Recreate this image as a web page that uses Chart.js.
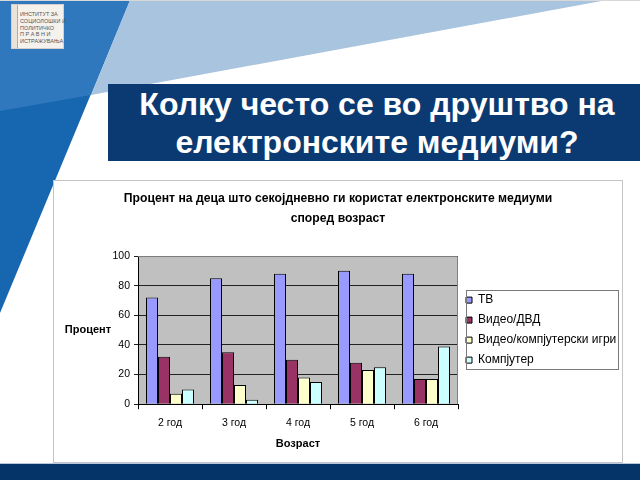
<!DOCTYPE html>
<html>
<head>
<meta charset="utf-8">
<script src="https://cdn.jsdelivr.net/npm/chart.js@4.4.0/dist/chart.umd.min.js"></script>
<style>
html, body { margin: 0; padding: 0; }
body { width: 640px; height: 480px; position: relative; overflow: hidden; background: #fff; font-family: "Liberation Sans", Arial, sans-serif; }
#bg { position: absolute; left: 0; top: 0; }
#logo { position: absolute; left: 11px; top: 4px; width: 53px; height: 45px; box-sizing: border-box; background: #f5f1ec; border: 1px solid #d8d0c8; }
#logo .strip { position: absolute; left: 0; top: 0; width: 5px; height: 43px; background: #ebe3da; border-right: 1px solid #b8ab9c; }
#logo .txt { position: absolute; left: 8px; top: 6px; font-size: 5.5px; line-height: 6.8px; color: #555; white-space: nowrap; }
#banner { position: absolute; left: 108px; top: 84px; width: 532px; height: 77px; box-sizing: border-box; padding: 1px 0 0 6px; background: #0b3a72; color: #fff; font-weight: bold; font-size: 32px; line-height: 38px; text-align: center; white-space: nowrap; }
#box { position: absolute; left: 53px; top: 180px; width: 570px; height: 283px; box-sizing: border-box; border: 1px solid #c4c4c4; background: #fff; }
#box canvas { position: absolute; left: 0; top: 0; }
#foot { position: absolute; left: 0; top: 463px; width: 640px; height: 17px; box-sizing: border-box; background: #053468; border-top: 1px solid #b8c8dc; }
</style>
</head>
<body>
<svg id="bg" width="640" height="480">
  <polygon points="0,0 130,0 0,313" fill="#1666b0"/>
  <polygon points="0,0 130,0 91,95 0,111" fill="#2f78bd"/>
  <polygon points="130,0 607,0 91,95" fill="#a9c4de"/>
  <line x1="0" y1="0.5" x2="640" y2="0.5" stroke="#d8d8d8"/>
</svg>
<div id="logo">
  <div class="strip"></div>
  <div class="txt">ИНСТИТУТ ЗА<br>СОЦИОЛОШКИ И<br>ПОЛИТИЧКО<br>П Р А В Н И<br>ИСТРАЖУВАЊА</div>
</div>
<div id="banner">Колку често се во друштво на<br>електронските медиуми?</div>
<div id="box"><canvas id="chart" width="568" height="281"></canvas></div>
<div id="foot"></div>
<script>
// values
var categories = ['2 год', '3 год', '4 год', '5 год', '6 год'];
var seriesNames = ['ТВ', 'Видео/ДВД', 'Видео/компјутерски игри', 'Компјутер'];
var tv = [72, 85, 88, 90, 88];
var video = [32, 35, 30, 28, 17];
var games = [7, 13, 18, 23, 17];
var computer = [10, 3, 15, 25, 39];
var yTicks = [0, 20, 40, 60, 80, 100];

var colors = ['#9999ff', '#993366', '#ffffcc', '#ccffff'];
var font = '"Liberation Sans", Arial, sans-serif';

// gray plot area, legend frame and the horizontal y title
var slideBits = {
  id: 'slideBits',
  afterInit: function(chart) {
    var lg = chart.legend;
    var fit = lg.fit;
    lg.fit = function() { fit.call(this); this.width = 164; };
  },
  beforeDraw: function(chart) {
    var c = chart.ctx, a = chart.chartArea;
    c.save();
    c.fillStyle = '#c0c0c0';
    c.fillRect(a.left, a.top, a.right - a.left, a.bottom - a.top);
    c.restore();
  },
  afterDraw: function(chart) {
    var c = chart.ctx, a = chart.chartArea;
    c.save();
    c.strokeStyle = '#808080';
    c.lineWidth = 1;
    c.beginPath();
    c.moveTo(a.left, a.top + 0.5);
    c.lineTo(a.right - 0.5, a.top + 0.5);
    c.lineTo(a.right - 0.5, a.bottom);
    c.stroke();
    // legend frame
    var lg = chart.legend, hb = lg.legendHitBoxes;
    if (hb && hb.length) {
      var first = hb[0], last = hb[hb.length - 1];
      var top = first.top + first.height / 2 - 10;
      var bot = last.top + last.height / 2 + 9;
      c.strokeStyle = '#7a7a7a';
      c.strokeRect(Math.round(lg.left + 8) + 0.5, Math.round(top) + 0.5, 152, Math.round(bot - top));
    }
    c.fillStyle = '#000';
    c.font = 'bold 11px ' + font;
    c.textAlign = 'center';
    c.textBaseline = 'middle';
    c.fillText('Процент', 34, (a.top + a.bottom) / 2);
    c.restore();
  }
};

var chart = new Chart(document.getElementById('chart'), {
  type: 'bar',
  data: {
    labels: categories,
    datasets: [
      { label: seriesNames[0], data: tv, backgroundColor: colors[0] },
      { label: seriesNames[1], data: video, backgroundColor: colors[1] },
      { label: seriesNames[2], data: games, backgroundColor: colors[2] },
      { label: seriesNames[3], data: computer, backgroundColor: colors[3] }
    ]
  },
  options: {
    responsive: false,
    animation: false,
    categoryPercentage: 0.75,
    barPercentage: 1,
    borderColor: '#000',
    borderWidth: 1,
    layout: { padding: { left: 0, right: 0, top: 0, bottom: 7 } },
    plugins: {
      title: {
        display: true,
        text: ['Процент на деца што секојдневно ги користат електронските медиуми', 'според возраст'],
        color: '#000',
        font: { family: font, size: 12.2, weight: 'bold', lineHeight: 1.6 },
        padding: { top: 8, bottom: 28 }
      },
      legend: {
        position: 'right',
        fullSize: false,
        align: 'center',
        labels: { boxWidth: 6, boxHeight: 6, padding: 8, color: '#000', font: { family: font, size: 12 } }
      },
      tooltip: { enabled: false }
    },
    scales: {
      x: {
        grid: { offset: true, drawOnChartArea: false, tickLength: 5, color: '#000' },
        border: { color: '#000' },
        ticks: { color: '#000', font: { family: font, size: 10.5 }, padding: 8 },
        title: { display: true, text: 'Возраст', color: '#000', font: { family: font, size: 11, weight: 'bold' }, padding: { top: 0, bottom: 4 } }
      },
      y: {
        min: 0,
        max: 100,
        afterFit: function(s) { s.width = 84; },
        afterBuildTicks: function(s) { s.ticks = yTicks.map(function(v) { return { value: v }; }); },
        grid: { color: '#222', tickLength: 4 },
        border: { color: '#000' },
        ticks: { color: '#000', font: { family: font, size: 10.5 }, padding: 4 }
      }
    }
  },
  plugins: [slideBits]
});
</script>
</body>
</html>
